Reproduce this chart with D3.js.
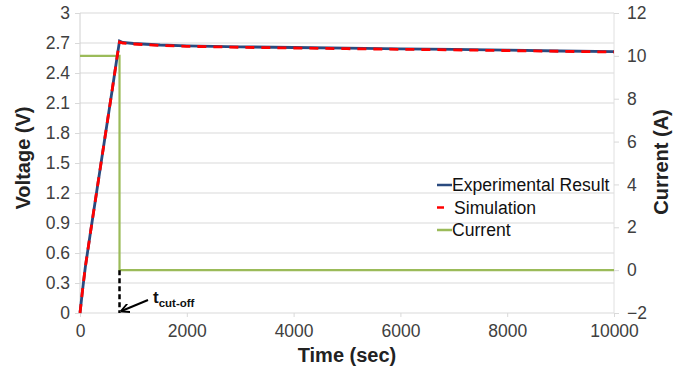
<!DOCTYPE html>
<html>
<head>
<meta charset="utf-8">
<script src="https://cdn.jsdelivr.net/npm/d3@7"></script>
<style>
  body { margin: 0; background: #fff; }
  text { font-family: Arial, "Liberation Sans", sans-serif; }
</style>
</head>
<body>
<svg id="chart" width="688" height="376"></svg>
<script>
// Time axis (seconds)
const timeTicks = [0, 2000, 4000, 6000, 8000, 10000];
const voltageTicks = [0, 0.3, 0.6, 0.9, 1.2, 1.5, 1.8, 2.1, 2.4, 2.7, 3];
const currentTicks = [-2, 0, 2, 4, 6, 8, 10, 12];

// Measured cell voltage (V) vs time (s)
const expTime    = [0, 50, 100, 200, 300, 400, 500, 600, 700, 740, 800, 1000, 1500, 2000, 3000, 4000, 5000, 6000, 7000, 8000, 9000, 10000];
const expVoltage = [0, 0.24, 0.46, 0.82, 1.17, 1.52, 1.87, 2.22, 2.58, 2.72, 2.705, 2.695, 2.68, 2.672, 2.662, 2.655, 2.648, 2.642, 2.636, 2.628, 2.62, 2.613];

// Simulated cell voltage (V) vs time (s)
const simTime    = [0, 50, 100, 200, 300, 400, 500, 600, 700, 740, 800, 1000, 1500, 2000, 3000, 4000, 5000, 6000, 7000, 8000, 9000, 10000];
const simVoltage = [0, 0.24, 0.46, 0.82, 1.17, 1.52, 1.87, 2.22, 2.58, 2.71, 2.70, 2.69, 2.675, 2.667, 2.657, 2.65, 2.643, 2.637, 2.631, 2.624, 2.617, 2.61];

// Applied current (A): constant charge then cut-off
const curTime  = [0, 740, 740, 10000];
const curValue = [10, 10, 0, 0];

const cutoffTime = 740;

const svg = d3.select("#chart");
const plotLeft = 80, plotRight = 614, plotTop = 13, plotBottom = 313;

const x = d3.scaleLinear().domain([0, 10000]).range([plotLeft, plotRight]);
const yV = d3.scaleLinear().domain([0, 3]).range([plotBottom, plotTop]);
const yI = d3.scaleLinear().domain([-2, 12]).range([plotBottom, plotTop]);

// Horizontal gridlines
svg.append("g").selectAll("line").data(voltageTicks).join("line")
  .attr("x1", plotLeft).attr("x2", plotRight)
  .attr("y1", d => yV(d)).attr("y2", d => yV(d))
  .attr("stroke", "#d9d9d9").attr("stroke-width", 1);

// Left and right axis lines
svg.append("line").attr("x1", plotLeft).attr("x2", plotLeft).attr("y1", plotTop).attr("y2", plotBottom)
  .attr("stroke", "#d0d0d0");
svg.append("line").attr("x1", plotRight).attr("x2", plotRight).attr("y1", plotTop).attr("y2", plotBottom)
  .attr("stroke", "#e0e0e0");

// Left axis (voltage)
const axL = svg.append("g").attr("transform", `translate(${plotLeft},0)`)
  .call(d3.axisLeft(yV).tickValues(voltageTicks).tickSize(5).tickPadding(5)
    .tickFormat(d => String(+d.toFixed(1))));
// Right axis (current)
const axR = svg.append("g").attr("transform", `translate(${plotRight},0)`)
  .call(d3.axisRight(yI).tickValues(currentTicks).tickSize(5).tickPadding(8));
// Bottom axis (time)
const axB = svg.append("g").attr("transform", `translate(0,${plotBottom})`)
  .call(d3.axisBottom(x).tickValues(timeTicks).tickSize(4).tickPadding(8).tickFormat(d3.format("d")));

[axL, axR, axB].forEach(g => {
  g.select(".domain").remove();
  g.selectAll(".tick line").attr("stroke", "#d9d9d9");
  g.selectAll(".tick text").attr("font-size", 17.5).attr("fill", "#404040")
    .attr("font-family", "Arial, 'Liberation Sans', sans-serif");
});

// Series
const line = (xs, ys, yScale) => d3.line().x((d, i) => x(xs[i])).y((d, i) => yScale(ys[i]))(ys);

svg.append("path").attr("d", line(curTime, curValue, yI))
  .attr("fill", "none").attr("stroke", "#9bbb59").attr("stroke-width", 2.2);

svg.append("path").attr("d", line(expTime, expVoltage, yV))
  .attr("fill", "none").attr("stroke", "#2a4a7f").attr("stroke-width", 2.8);

svg.append("path").attr("d", line(simTime, simVoltage, yV))
  .attr("fill", "none").attr("stroke", "#ff0000").attr("stroke-width", 2.8)
  .attr("stroke-dasharray", "9,7");

// Cut-off marker
svg.append("line")
  .attr("x1", x(cutoffTime)).attr("x2", x(cutoffTime))
  .attr("y1", yI(0)).attr("y2", yV(0))
  .attr("stroke", "#000").attr("stroke-width", 2.5).attr("stroke-dasharray", "5,3");

svg.append("defs").append("marker")
  .attr("id", "arrow").attr("viewBox", "0 0 10 10").attr("refX", 9).attr("refY", 5)
  .attr("markerWidth", 4.5).attr("markerHeight", 4.5).attr("orient", "auto")
  .append("path").attr("d", "M0,0 L10,5 L0,10").attr("fill", "none").attr("stroke", "#000").attr("stroke-width", 2);

svg.append("line")
  .attr("x1", 148).attr("y1", 300).attr("x2", x(cutoffTime) + 2).attr("y2", yV(0) - 2)
  .attr("stroke", "#000").attr("stroke-width", 2).attr("marker-end", "url(#arrow)");

const tl = svg.append("text").attr("x", 153).attr("y", 303).attr("font-weight", "bold").attr("fill", "#111");
tl.append("tspan").attr("font-size", 17).text("t");
tl.append("tspan").attr("font-size", 11.5).attr("dy", 4).text("cut-off");

// Legend
const legend = [
  { label: "Experimental Result", color: "#2a4a7f", short: false },
  { label: "Simulation", color: "#ff0000", short: true },
  { label: "Current", color: "#9bbb59", short: false }
];
const lg = svg.append("g");
legend.forEach((d, i) => {
  const yy = 185 + i * 22.5;
  lg.append("line").attr("x1", 437).attr("x2", d.short ? 444 : 452)
    .attr("y1", yy).attr("y2", yy).attr("stroke", d.color).attr("stroke-width", 2.5);
  lg.append("text").attr("x", d.short ? 454 : 452).attr("y", yy + 6)
    .attr("font-size", 17.6).attr("fill", "#111").text(d.label);
});

// Axis titles
svg.append("text").attr("transform", "translate(30,158) rotate(-90)")
  .attr("text-anchor", "middle").attr("font-size", 20).attr("font-weight", "bold").attr("fill", "#222")
  .text("Voltage (V)");
svg.append("text").attr("transform", "translate(668,162) rotate(-90)")
  .attr("text-anchor", "middle").attr("font-size", 20).attr("font-weight", "bold").attr("fill", "#222")
  .text("Current (A)");
svg.append("text").attr("x", 347).attr("y", 362)
  .attr("text-anchor", "middle").attr("font-size", 20).attr("font-weight", "bold").attr("fill", "#222")
  .text("Time (sec)");
</script>
</body>
</html>
